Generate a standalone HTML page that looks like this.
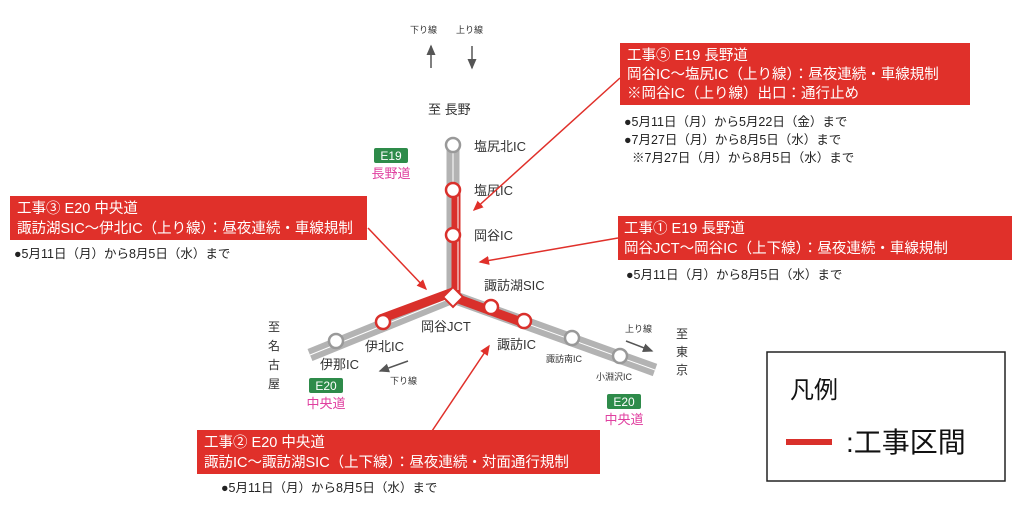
<!DOCTYPE html>
<html><head><meta charset="utf-8">
<style>
body{margin:0;background:#fff;}
svg text{font-family:"Liberation Sans","Noto Sans CJK JP",sans-serif;}
</style></head>
<body>
<svg width="1024" height="509" viewBox="0 0 1024 509" xmlns="http://www.w3.org/2000/svg">
<defs>
<marker id="ar" markerWidth="8" markerHeight="8" refX="6" refY="4" orient="auto"><path d="M0,1 L7,4 L0,7 Z" fill="#e0302a"/></marker>
<marker id="ak" markerWidth="8" markerHeight="8" refX="6" refY="4" orient="auto"><path d="M0,1 L7,4 L0,7 Z" fill="#555"/></marker>
</defs>
<g stroke="#b3b3b3" stroke-width="13" fill="none" stroke-linecap="butt">
<line x1="453" y1="145" x2="453" y2="297"/>
<line x1="453" y1="297" x2="310" y2="355"/>
<line x1="453" y1="297" x2="655" y2="370"/>
</g>
<g stroke="#fff" stroke-width="1" fill="none">
<line x1="453" y1="145" x2="453" y2="297"/>
<line x1="453" y1="297" x2="310" y2="355"/>
<line x1="453" y1="297" x2="655" y2="370"/>
</g>
<g stroke="#d9302b" stroke-width="9" fill="none">
<line x1="456" y1="190" x2="456" y2="297"/>
<line x1="453" y1="292" x2="383" y2="318"/>
<line x1="453" y1="297" x2="524" y2="323"/>
</g>
<line x1="458" y1="190" x2="458" y2="290" stroke="#fff" stroke-width="1"/>
<g stroke-width="2.5" fill="#fff">
<circle cx="453" cy="145" r="7" stroke="#999"/>
<circle cx="453" cy="190" r="7" stroke="#d9302b"/>
<circle cx="453" cy="235" r="7" stroke="#d9302b"/>
<circle cx="383" cy="322" r="7" stroke="#d9302b"/>
<circle cx="336" cy="341" r="7" stroke="#999"/>
<circle cx="491" cy="307" r="7" stroke="#d9302b"/>
<circle cx="524" cy="321" r="7" stroke="#d9302b"/>
<circle cx="572" cy="338" r="7" stroke="#999"/>
<circle cx="620" cy="356" r="7" stroke="#999"/>
</g>
<rect x="446" y="290" width="14" height="14" fill="#fff" stroke="#d9302b" stroke-width="2" transform="rotate(45 453 297)"/>
<g font-size="13" fill="#333">
<text x="410" y="33" font-size="9">下り線</text>
<text x="456" y="33" font-size="9">上り線</text>
<text x="428" y="114">至 長野</text>
<text x="474" y="151">塩尻北IC</text>
<text x="474" y="195">塩尻IC</text>
<text x="474" y="240">岡谷IC</text>
<text x="484" y="290">諏訪湖SIC</text>
<text x="421" y="331">岡谷JCT</text>
<text x="497" y="349">諏訪IC</text>
<text x="546" y="362" font-size="9">諏訪南IC</text>
<text x="596" y="380" font-size="9">小淵沢IC</text>
<text x="365" y="351">伊北IC</text>
<text x="320" y="369">伊那IC</text>
<text x="390" y="384" font-size="9">下り線</text>
<text x="625" y="332" font-size="9">上り線</text>
<text x="268" y="331" font-size="12">至</text>
<text x="268" y="350" font-size="12">名</text>
<text x="268" y="369" font-size="12">古</text>
<text x="268" y="388" font-size="12">屋</text>
<text x="676" y="338" font-size="12">至</text>
<text x="676" y="356" font-size="12">東</text>
<text x="676" y="374" font-size="12">京</text>
</g>
<g stroke="#555" stroke-width="1.5">
<line x1="431" y1="68" x2="431" y2="46" marker-end="url(#ak)"/>
<line x1="472" y1="46" x2="472" y2="68" marker-end="url(#ak)"/>
<line x1="408" y1="361" x2="380" y2="371" marker-end="url(#ak)"/>
<line x1="626" y1="341" x2="652" y2="351" marker-end="url(#ak)"/>
</g>
<rect x="374" y="148" width="34" height="15" fill="#2e8b4a" rx="2"/>
<text x="391" y="160" font-size="12" fill="#fff" text-anchor="middle">E19</text>
<text x="391" y="178" font-size="13" fill="#e040a0" text-anchor="middle">長野道</text>
<rect x="309" y="378" width="34" height="15" fill="#2e8b4a" rx="2"/>
<text x="326" y="390" font-size="12" fill="#fff" text-anchor="middle">E20</text>
<text x="326" y="408" font-size="13" fill="#e040a0" text-anchor="middle">中央道</text>
<rect x="607" y="394" width="34" height="15" fill="#2e8b4a" rx="2"/>
<text x="624" y="406" font-size="12" fill="#fff" text-anchor="middle">E20</text>
<text x="624" y="424" font-size="13" fill="#e040a0" text-anchor="middle">中央道</text>
<g stroke="#e0302a" stroke-width="1.5">
<line x1="620" y1="78" x2="474" y2="210" marker-end="url(#ar)"/>
<line x1="368" y1="228" x2="426" y2="289" marker-end="url(#ar)"/>
<line x1="618" y1="238" x2="480" y2="262" marker-end="url(#ar)"/>
<line x1="432" y1="431" x2="489" y2="346" marker-end="url(#ar)"/>
</g>
<g fill="#e0302a">
<rect x="620" y="43" width="350" height="62"/>
<rect x="10" y="196" width="357" height="44"/>
<rect x="618" y="216" width="394" height="44"/>
<rect x="197" y="430" width="403" height="44"/>
</g>
<g fill="#fff" font-size="14.5">
<text x="627" y="60">工事⑤ E19 長野道</text>
<text x="627" y="79">岡谷IC～塩尻IC（上り線）：昼夜連続・車線規制</text>
<text x="627" y="98">※岡谷IC（上り線）出口：通行止め</text>
<text x="17" y="213">工事③ E20 中央道</text>
<text x="17" y="233">諏訪湖SIC～伊北IC（上り線）：昼夜連続・車線規制</text>
<text x="624" y="233">工事① E19 長野道</text>
<text x="624" y="253">岡谷JCT～岡谷IC（上下線）：昼夜連続・車線規制</text>
<text x="204" y="447">工事② E20 中央道</text>
<text x="204" y="467">諏訪IC～諏訪湖SIC（上下線）：昼夜連続・対面通行規制</text>
</g>
<g fill="#222" font-size="12.5">
<text x="624" y="126">●5月11日（月）から5月22日（金）まで</text>
<text x="624" y="144">●7月27日（月）から8月5日（水）まで</text>
<text x="632" y="162">※7月27日（月）から8月5日（水）まで</text>
<text x="14" y="258">●5月11日（月）から8月5日（水）まで</text>
<text x="626" y="279">●5月11日（月）から8月5日（水）まで</text>
<text x="221" y="492">●5月11日（月）から8月5日（水）まで</text>
</g>
<rect x="767" y="352" width="238" height="129" fill="#fff" stroke="#222" stroke-width="1.5"/>
<text x="790" y="398" font-size="24" fill="#111">凡例</text>
<rect x="786" y="439" width="46" height="6" fill="#d9302b"/>
<text x="846" y="452" font-size="28" fill="#111">:工事区間</text>
</svg>
</body></html>
